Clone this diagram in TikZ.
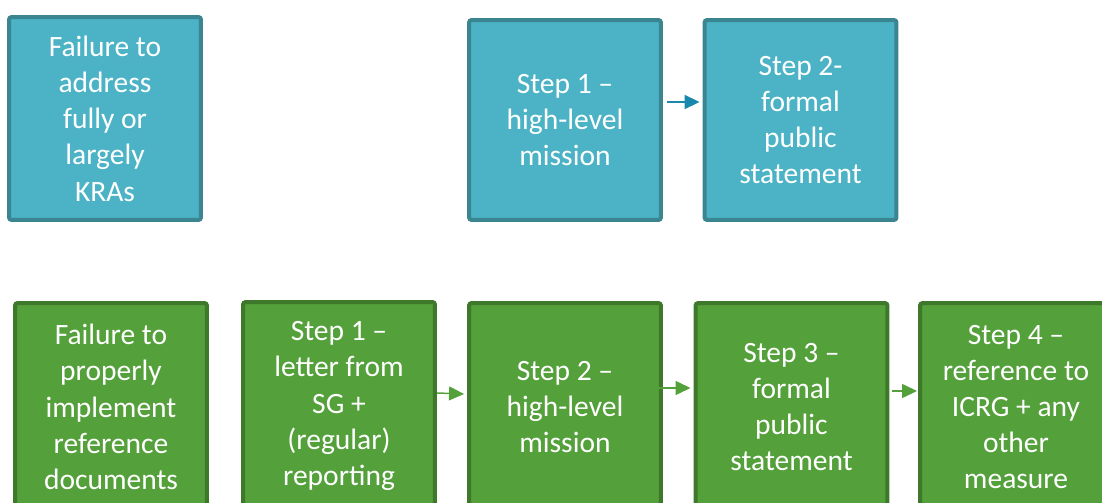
\documentclass[tikz,border=0pt]{standalone}
\usepackage{fontspec}
\setmainfont{Carlito}
\usetikzlibrary{arrows.meta}
\usepackage{xcolor}

\definecolor{tealfill}{RGB}{75,179,197}
\definecolor{tealline}{RGB}{58,133,144}
\definecolor{tealarrow}{RGB}{24,136,172}
\definecolor{greenfill}{RGB}{84,160,58}
\definecolor{greenline}{RGB}{62,120,42}

\begin{document}
\begin{tikzpicture}[
    x=0.02cm, y=-0.02cm,
    tealbox/.style={draw=tealline, fill=tealfill, line width=0.08cm, rounded corners=1.5pt,
        minimum width=3.84cm, minimum height=4.0cm, align=center, text=white,
        font=\fontsize{16.8}{20.6}\selectfont},
    greenbox/.style={tealbox, draw=greenline, fill=greenfill, minimum height=4.16cm},
    tarrow/.style={-{Triangle[length=0.3cm, width=0.28cm]}, line width=0.04cm, draw=tealarrow},
    garrow/.style={-{Triangle[length=0.3cm, width=0.28cm]}, line width=0.03cm, draw=greenfill}
]
\useasboundingbox (0,0) rectangle (1102,503);

% upper row
\node[tealbox, minimum height=4.06cm] (kra) at (105, 118.5) {Failure to\\address\\fully or\\largely\\KRAs};
\node[tealbox] (t1) at (565, 120) {Step 1 --\\high-level\\mission};
\node[tealbox] (t2) at (800.5, 120) {Step 2-\\formal\\public\\statement};

\draw[tarrow] ([yshift=0.36cm, xshift=0.08cm]t1.east) -- ([yshift=0.36cm, xshift=-0.06cm]t2.west);

% lower row
\node[greenbox] (ref) at (111, 407) {Failure to\\properly\\implement\\reference\\documents};
\node[greenbox] (g1) at (339, 406) {Step 1 --\\letter from\\SG +\\(regular)\\reporting};
\node[greenbox] (g2) at (565, 407) {Step 2 --\\high-level\\mission};
\node[greenbox] (g3) at (791.5, 407) {Step 3 --\\formal\\public\\statement};
\node[greenbox] (g4) at (1016, 407) {Step 4 --\\reference to\\ICRG + any\\other\\measure};

\draw[garrow] ([yshift=0.26cm]g1.east) -- ([yshift=0.26cm, xshift=-0.06cm]g2.west);
\draw[garrow] ([yshift=0.38cm, xshift=-0.7cm]g2.east) -- ([yshift=0.38cm, xshift=-0.06cm]g3.west);
\draw[garrow] ([yshift=0.32cm, xshift=0.06cm]g3.east) -- ([yshift=0.32cm, xshift=-0.02cm]g4.west);
\end{tikzpicture}
\end{document}
